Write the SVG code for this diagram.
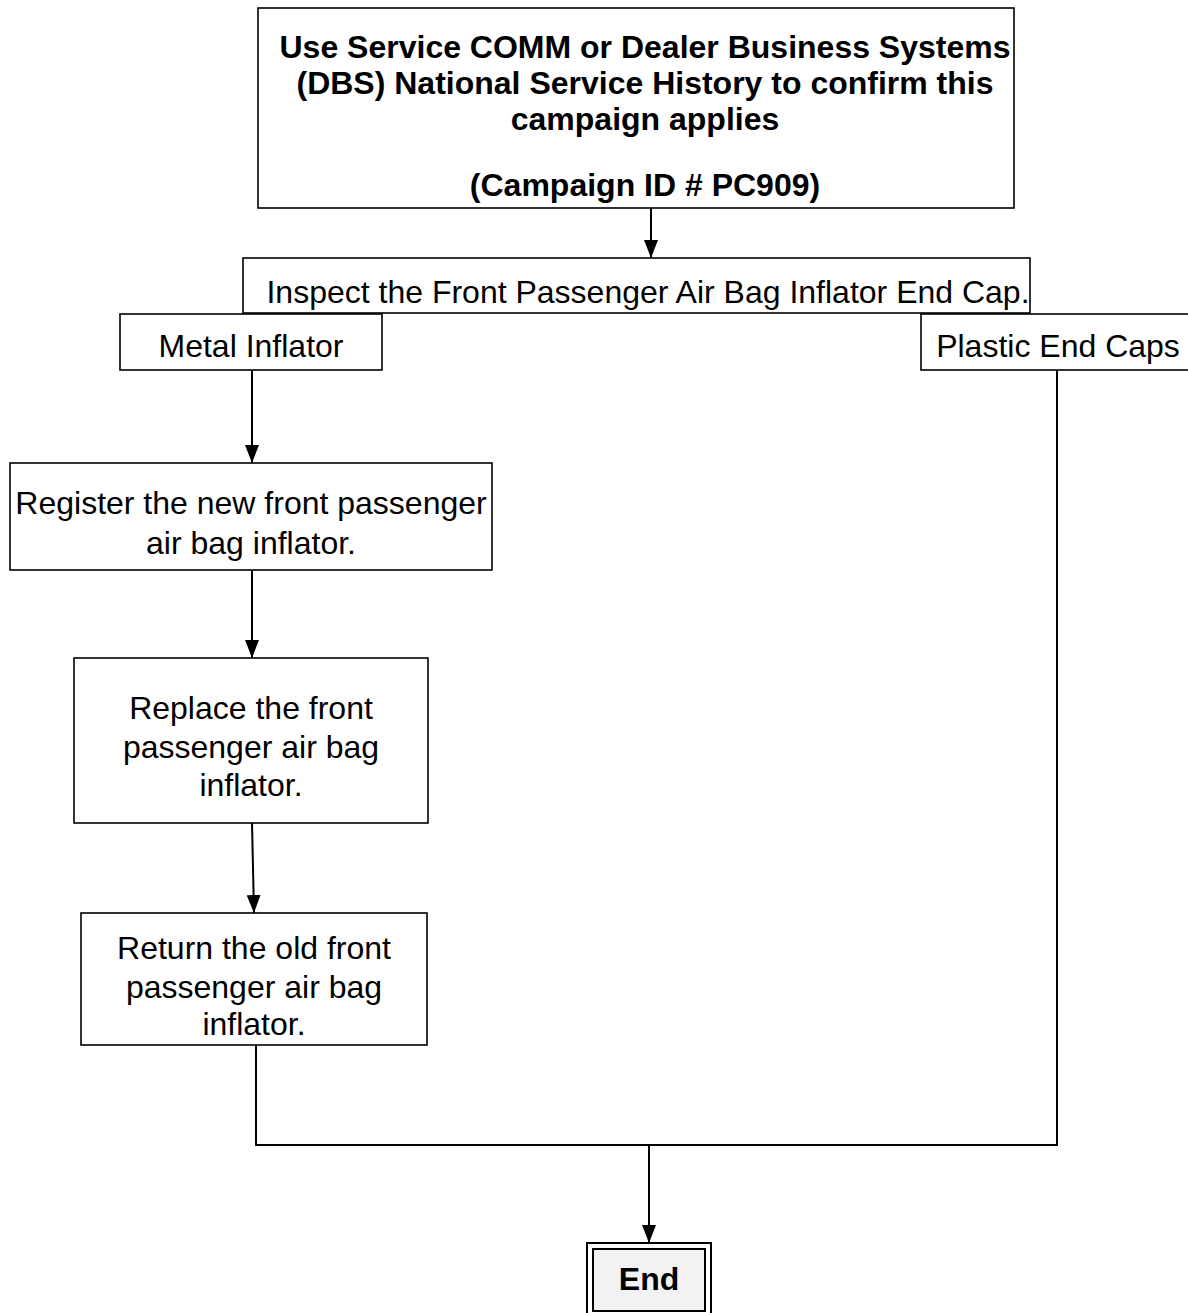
<svg xmlns="http://www.w3.org/2000/svg" width="1188" height="1313" viewBox="0 0 1188 1313">
<style>
.box{fill:#fff;stroke:#000;stroke-width:1.6}
.t{font-family:"Liberation Sans",Arial,sans-serif;font-size:32px;fill:#000;text-anchor:middle}
.b{font-weight:bold}
.c{fill:none;stroke:#000;stroke-width:2}
</style>
<defs>
<marker id="ah" markerWidth="18" markerHeight="14" refX="18" refY="7" orient="auto" markerUnits="userSpaceOnUse" viewBox="0 0 18 14">
<path d="M0,0 L18,7 L0,14 Z" fill="#000"/>
</marker>
</defs>
<rect width="1188" height="1313" fill="#fff"/>
<g id="connectors">
<line class="c" x1="651" y1="208" x2="651" y2="258" marker-end="url(#ah)"/>
<line class="c" x1="252" y1="370" x2="252" y2="463" marker-end="url(#ah)"/>
<line class="c" x1="252" y1="570" x2="252" y2="658" marker-end="url(#ah)"/>
<line class="c" x1="252" y1="823" x2="254" y2="913" marker-end="url(#ah)"/>
<polyline class="c" points="256,1045 256,1145 1057,1145 1057,370"/>
<line class="c" x1="649" y1="1145" x2="649" y2="1243" marker-end="url(#ah)"/>
</g>
<g id="n-start">
<rect class="box" x="258" y="8" width="756" height="200"/>
<text class="t b" x="645" y="58">Use Service COMM or Dealer Business Systems</text>
<text class="t b" x="645" y="94">(DBS) National Service History to confirm this</text>
<text class="t b" x="645" y="130">campaign applies</text>
<text class="t b" x="645" y="196">(Campaign ID # PC909)</text>
</g>
<g id="n-inspect">
<rect class="box" x="243" y="258" width="787" height="55"/>
<text class="t" x="648" y="303">Inspect the Front Passenger Air Bag Inflator End Cap.</text>
</g>
<g id="n-metal">
<rect class="box" x="120" y="314" width="262" height="56"/>
<text class="t" x="251" y="357">Metal Inflator</text>
</g>
<g id="n-plastic">
<rect class="box" x="921" y="314" width="280" height="56"/>
<text class="t" x="1058" y="357">Plastic End Caps</text>
</g>
<g id="n-register">
<rect class="box" x="10" y="463" width="482" height="107"/>
<text class="t" x="251" y="514">Register the new front passenger</text>
<text class="t" x="251" y="554">air bag inflator.</text>
</g>
<g id="n-replace">
<rect class="box" x="74" y="658" width="354" height="165"/>
<text class="t" x="251" y="719">Replace the front</text>
<text class="t" x="251" y="758">passenger air bag</text>
<text class="t" x="251" y="796">inflator.</text>
</g>
<g id="n-return">
<rect class="box" x="81" y="913" width="346" height="132"/>
<text class="t" x="254" y="959">Return the old front</text>
<text class="t" x="254" y="998">passenger air bag</text>
<text class="t" x="254" y="1035">inflator.</text>
</g>
<g id="n-end">
<rect x="587" y="1243" width="124" height="72" fill="#fff" stroke="#000" stroke-width="2"/>
<rect x="593" y="1249" width="112" height="62" fill="#f2f2f2" stroke="#000" stroke-width="2"/>
<text class="t b" x="649" y="1290">End</text>
</g>
</svg>
